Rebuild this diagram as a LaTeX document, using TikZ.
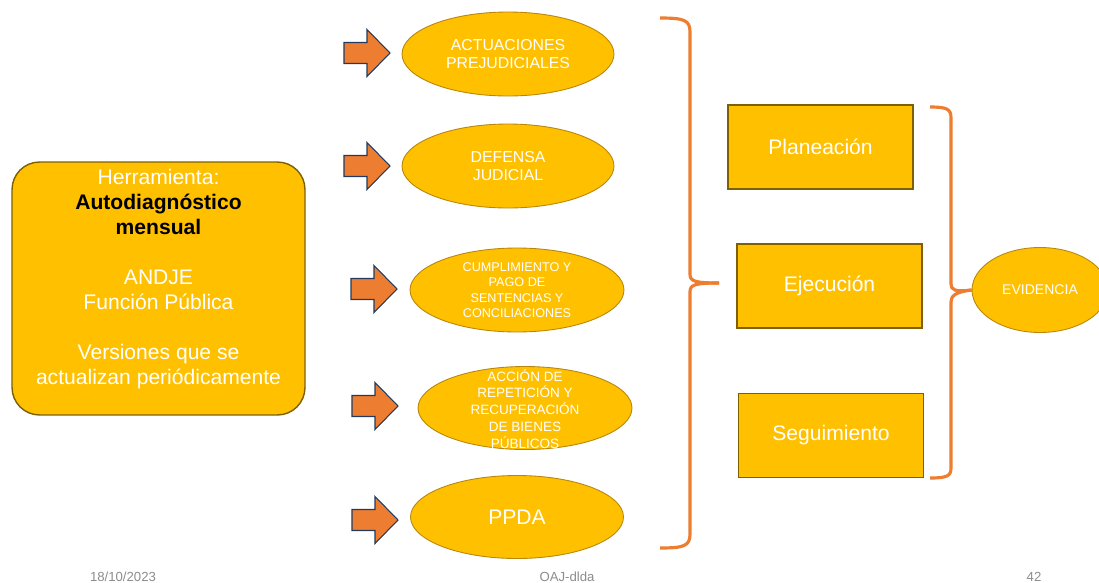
\documentclass[tikz,border=0pt]{standalone}
\usepackage{fontspec}
\setmainfont{Liberation Sans}
\usetikzlibrary{shapes.geometric}

\definecolor{gold}{HTML}{FFC000}
\definecolor{goldline}{HTML}{B8860B}
\definecolor{boxline}{HTML}{7F6000}
\definecolor{orangebr}{HTML}{ED7D31}
\definecolor{navyline}{HTML}{223A5E}
\definecolor{footgray}{HTML}{8C8C8C}

\begin{document}
\begin{tikzpicture}[x=0.02cm,y=-0.02cm,
	oval/.style={ellipse,draw=goldline,fill=gold,line width=0.5pt,inner sep=0pt,text=white,align=center},
	ovaltext/.style={text=white,align=center,inner sep=0pt},
	stagebox/.style={rectangle,draw=boxline,fill=gold,line width=1pt,minimum width=3.7cm,minimum height=1.68cm,text=white,font=\fontsize{12}{14}\selectfont},
	blockarrow/.style={fill=orangebr,draw=navyline,line width=0.6pt,line join=miter},
	bracket/.style={draw=orangebr,line width=1.8pt},
	foot/.style={text=footgray,font=\fontsize{7.5}{9}\selectfont,inner sep=0pt}]
		\useasboundingbox (0,0) rectangle (1099,582);
		% herramienta
		\node[draw=boxline,fill=gold,line width=0.8pt,rounded corners=0.55cm,minimum width=5.86cm,minimum height=5.06cm] (tool) at (158.5,288.5) {};
		\node[text=white,align=center,inner sep=0pt,font=\fontsize{12}{14.2}\selectfont] (tooltxt) at (158.5,279) {Herramienta:\\ \textcolor{black}{\textbf{Autodiagnóstico}}\\ \textcolor{black}{\textbf{mensual}}\\[\baselineskip] ANDJE\\ Función Pública\\[\baselineskip] Versiones que se\\ actualizan periódicamente};
		% flechas
		\foreach \n/\tx/\ty in {1/390/53, 2/390/166, 3/397/289, 4/398/406, 5/398/520}
			\draw[blockarrow] (\tx,\ty) coordinate (tip\n) -- ++(-23,-23.5) -- ++(0,13) -- ++(-23,0) -- ++(0,21) -- ++(23,0) -- ++(0,13) -- cycle;
		% procesos
		\node[oval,minimum width=4.24cm,minimum height=1.68cm,font=\fontsize{9}{10.3}\selectfont] (prej) at (508,54) {ACTUACIONES\\PREJUDICIALES};
		\node[oval,minimum width=4.24cm,minimum height=1.68cm,font=\fontsize{9}{10.3}\selectfont] (defensa) at (508,166) {DEFENSA\\JUDICIAL};
		\node[oval,minimum width=4.28cm,minimum height=1.68cm,font=\fontsize{7.2}{8.7}\selectfont] (pago) at (517,290) {CUMPLIMIENTO Y\\PAGO DE\\SENTENCIAS Y\\CONCILIACIONES};
		\node[oval,minimum width=4.28cm,minimum height=1.66cm] (repet) at (525,408) {};
		\node[ovaltext,font=\fontsize{7.7}{9.6}\selectfont] (repettxt) at (525,409) {ACCIÓN DE\\REPETICIÓN Y\\RECUPERACIÓN\\DE BIENES\\PÚBLICOS};
		\node[oval,minimum width=4.26cm,minimum height=1.66cm,font=\fontsize{12}{14}\selectfont] (ppda) at (517,517) {PPDA};
		% etapas
		\node[stagebox] (plan) at (820.5,147) {Planeación};
		\node[stagebox] (ejec) at (829.5,286) {Ejecución};
		\node[stagebox] (segui) at (831,435.5) {Seguimiento};
		\node[oval,minimum width=2.72cm,minimum height=1.7cm,font=\fontsize{8}{9}\selectfont] (evid) at (1040,290) {EVIDENCIA};
		% llaves
		\draw[bracket] (660,18) .. controls (684,18) and (690,20) .. (690,32) -- (690,274) .. controls (690,281) and (694,283) .. (719,283) coordinate (midleft);
		\draw[bracket] (midleft) .. controls (694,283) and (690,285) .. (690,292) -- (690,534) .. controls (690,546) and (684,548) .. (660,548);
		\draw[bracket] (930,107) .. controls (947,107) and (951,109) .. (951,118) -- (951,284) .. controls (951,290) and (955,292) .. (evid.west);
		\draw[bracket] (evid.west) .. controls (955,292) and (951,296) .. (951,302) -- (951,468) .. controls (951,476) and (947,478) .. (930,478);
		% pie
		\node[foot] (fecha) at (123,577) {18/10/2023};
		\node[foot] (sigla) at (567,577) {OAJ-dlda};
		\node[foot] (pagina) at (1034,577) {42};
	\end{tikzpicture}
\end{document}
